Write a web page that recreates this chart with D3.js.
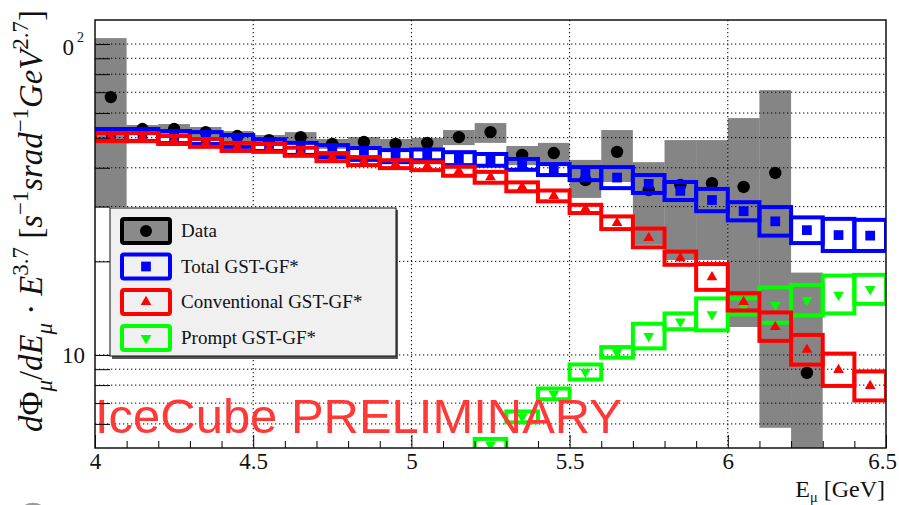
<!DOCTYPE html>
<html>
<head>
<meta charset="utf-8">
<script src="https://cdn.jsdelivr.net/npm/d3@7"></script>
<style>
body { margin: 0; background: #fff; }
svg { display: block; }
</style>
</head>
<body>
<div id="chart"></div>
<script>
// log10(E/GeV) bins, width 0.1
var binLo = [4.0, 4.1, 4.2, 4.3, 4.4, 4.5, 4.6, 4.7, 4.8, 4.9, 5.0, 5.1, 5.2,
             5.3, 5.4, 5.5, 5.6, 5.7, 5.8, 5.9, 6.0, 6.1, 6.2, 6.3, 6.4];
var binWidth = 0.1;

// data points with their (grey) uncertainty band
var dataVal = [67.5, 53.3, 53.3, 52.1, 50.6, 49.1, 50.2, 47.7, 48.4, 47.7, 48.1, 50.2, 52.1,
               44.0, 44.6, 36.5, 45.0, 33.9, 35.2, 35.7, 34.7, 38.5, 8.75, null, null];
var dataLo  = [29.9, 51.7, 51.4, 50.2, 48.8, 47.3, 48.4, 46.0, 46.7, 46.0, 45.6, 47.3, 48.1,
               40.8, 40.8, 32.0, 36.0, 22.6, 20.2, 20.2, 12.3, 5.83, 4.0, null, null];
var dataHi  = [104.5, 54.9, 55.3, 54.1, 52.5, 51.0, 52.1, 49.5, 50.2, 49.5, 49.9, 52.9, 55.7,
               47.0, 48.1, 42.4, 52.9, 41.7, 49.1, 49.1, 57.8, 71.1, 18.4, null, null];

// Total GST-GF*
var totVal = [51.0, 51.0, 50.2, 49.9, 48.8, 47.3, 46.0, 45.3, 44.3, 43.6, 44.0, 42.8, 42.4,
              41.0, 39.5, 38.3, 37.2, 35.5, 33.7, 31.5, 29.0, 26.9, 25.2, 24.3, 24.2];
var totLo  = [48.8, 48.8, 48.0, 47.7, 46.7, 45.3, 44.0, 43.3, 42.4, 41.7, 42.3, 40.8, 40.6,
              39.4, 37.9, 36.5, 34.4, 33.2, 31.5, 29.0, 27.1, 24.2, 22.9, 21.6, 21.6];
var totHi  = [53.3, 53.3, 52.5, 52.1, 51.0, 49.4, 48.1, 47.3, 46.3, 45.6, 45.8, 44.9, 44.3,
              42.7, 41.1, 40.2, 40.2, 37.9, 36.0, 34.2, 31.0, 29.9, 27.7, 27.4, 27.2];

// Conventional GST-GF*
var convVal = [50.2, 50.2, 49.1, 48.1, 46.7, 46.3, 45.0, 43.3, 42.0, 41.1, 40.5, 39.0, 37.3,
               34.7, 32.5, 29.5, 26.6, 23.8, 20.5, 17.8, 14.8, 12.3, 10.4, 8.95, 7.95];
var convLo  = [48.7, 48.7, 47.7, 46.7, 45.3, 45.0, 43.7, 42.0, 40.8, 39.9, 39.3, 37.7, 35.8,
               33.6, 31.2, 28.6, 25.4, 22.2, 19.5, 16.2, 13.9, 11.1, 9.31, 7.95, 7.14];
var convHi  = [51.7, 51.7, 50.6, 49.5, 48.1, 47.7, 46.4, 44.6, 43.3, 42.3, 41.7, 40.3, 38.8,
               35.9, 33.8, 30.4, 27.9, 25.5, 21.5, 19.6, 15.8, 13.7, 11.6, 10.1, 8.85];

// Prompt GST-GF*
var promptVal = [null, null, null, null, null, null, null, null, null, null, null, null, 5.14,
                 6.32, 7.49, 8.82, 10.2, 11.5, 12.8, 13.5, 14.3, 14.5, 15.0, 15.6, 16.3];
var promptLo  = [null, null, null, null, null, null, null, null, null, null, null, null, 4.92,
                 6.07, 7.20, 8.34, 9.8, 10.5, 12.1, 12.0, 13.5, 12.7, 13.4, 13.6, 14.6];
var promptHi  = [null, null, null, null, null, null, null, null, null, null, null, null, 5.37,
                 6.58, 7.80, 9.32, 10.6, 12.6, 13.6, 15.2, 15.2, 16.5, 16.8, 18.0, 18.1];

var xMajor = [4, 4.5, 5, 5.5, 6, 6.5];
var xLabels = ["4", "4.5", "5", "5.5", "6", "6.5"];
var xMinor = [4.1, 4.2, 4.3, 4.4, 4.6, 4.7, 4.8, 4.9, 5.1, 5.2, 5.3, 5.4, 5.6, 5.7, 5.8, 5.9,
              6.1, 6.2, 6.3, 6.4];
var xGrid = [4.5, 5, 5.5, 6];
var yTicks = [6, 7, 8, 9, 10, 20, 30, 40, 50, 60, 70, 80, 90, 100];
var yLabelVals = [10, 100];
var yLabelMain = ["10", "0"];
var yLabelSup = ["", "2"];

var legendNames = ["Data", "Total GST-GF*", "Conventional GST-GF*", "Prompt GST-GF*"];

var W = 899, H = 505;
var x = d3.scaleLinear().domain([4, 6.5]).range([95, 886]);
var y = d3.scaleLog().domain([5.02, 119.5]).range([448, 20]);
var serif = "'Liberation Serif', 'Times New Roman', serif";

var svg = d3.select("#chart").append("svg")
  .attr("width", W).attr("height", H);
svg.append("rect").attr("width", W).attr("height", H).attr("fill", "#fff");

svg.append("clipPath").attr("id", "plotclip")
  .append("rect")
  .attr("x", x(4)).attr("y", y.range()[1])
  .attr("width", x(6.5) - x(4)).attr("height", y.range()[0] - y.range()[1]);

var plot = svg.append("g").attr("clip-path", "url(#plotclip)");

// dotted grid
plot.append("g").selectAll("line").data(yTicks).join("line")
  .attr("x1", x(4)).attr("x2", x(6.5))
  .attr("y1", d => y(d)).attr("y2", d => y(d))
  .attr("stroke", "#000").attr("stroke-width", 1).attr("stroke-dasharray", "1.3,2.7");
plot.append("g").selectAll("line").data(xGrid).join("line")
  .attr("x1", d => x(d)).attr("x2", d => x(d))
  .attr("y1", y.range()[1]).attr("y2", y.range()[0])
  .attr("stroke", "#000").attr("stroke-width", 1).attr("stroke-dasharray", "1.3,2.7");

// preliminary label
var wm = svg.append("text")
  .attr("x", 95).attr("y", 433)
  .attr("font-family", "'Liberation Sans', Arial, sans-serif")
  .attr("font-size", 48).attr("fill", "#ff3838")
  .text("IceCube PRELIMINARY");
var wmLen = wm.node().getComputedTextLength();
wm.attr("font-size", 48 * 527 / wmLen);

var bins = binLo.map(function(lo, i) {
  return {lo: lo, hi: lo + binWidth,
          d: dataVal[i], dLo: dataLo[i], dHi: dataHi[i],
          t: totVal[i], tLo: totLo[i], tHi: totHi[i],
          c: convVal[i], cLo: convLo[i], cHi: convHi[i],
          p: promptVal[i], pLo: promptLo[i], pHi: promptHi[i]};
});

// data uncertainty band
plot.append("g").selectAll("rect").data(bins.filter(b => b.d != null)).join("rect")
  .attr("x", b => x(b.lo)).attr("width", b => x(b.hi) - x(b.lo))
  .attr("y", b => y(b.dHi)).attr("height", b => y(b.dLo) - y(b.dHi))
  .attr("fill", "#000").attr("fill-opacity", 0.48);
plot.append("g").selectAll("circle").data(bins.filter(b => b.d != null)).join("circle")
  .attr("cx", b => x((b.lo + b.hi) / 2)).attr("cy", b => y(b.d))
  .attr("r", 6.2).attr("fill", "#000");

function drawModel(key, color, sym, rot) {
  var sel = bins.filter(b => b[key] != null);
  var g = plot.append("g");
  g.selectAll("rect").data(sel).join("rect")
    .attr("x", b => x(b.lo)).attr("width", b => x(b.hi) - x(b.lo))
    .attr("y", b => y(b[key + "Hi"])).attr("height", b => y(b[key + "Lo"]) - y(b[key + "Hi"]))
    .attr("fill", "none").attr("stroke", color).attr("stroke-width", 4);
  g.selectAll("path").data(sel).join("path")
    .attr("d", d3.symbol().type(sym.type).size(sym.size))
    .attr("transform", b => "translate(" + x((b.lo + b.hi) / 2) + "," + y(b[key]) + ") rotate(" + rot + ")")
    .attr("fill", color);
}
var sqr = {type: d3.symbolSquare, size: 95};
var tri = {type: d3.symbolTriangle, size: 50};
drawModel("t", "#0000ff", sqr, 0);
drawModel("p", "#00ff00", tri, 180);
drawModel("c", "#ff0000", tri, 0);

// axes, ticks pointing inward
var ax = svg.append("g").attr("transform", "translate(0," + y.range()[0] + ")")
  .call(d3.axisBottom(x).tickValues(xMajor).tickSize(-13).tickPadding(5)
    .tickFormat((d, i) => xLabels[i]));
svg.append("g").attr("transform", "translate(0," + y.range()[0] + ")")
  .call(d3.axisBottom(x).tickValues(xMinor).tickSize(-7).tickFormat(""));
var ay = svg.append("g").attr("transform", "translate(" + x(4) + ",0)")
  .call(d3.axisLeft(y).tickValues(yTicks).tickSize(-15).tickPadding(10)
    .tickFormat(function(d) {
      var k = yLabelVals.indexOf(d);
      return k < 0 ? "" : yLabelMain[k];
    }));
svg.selectAll(".domain").remove();
svg.selectAll(".tick line").attr("stroke", "#000");
svg.selectAll(".tick text").attr("font-family", serif).attr("font-size", 23).attr("fill", "#111");
// last label sits against the right edge of the picture
ax.selectAll(".tick text").filter(d => d === 6.5).attr("dx", -4);
ay.selectAll(".tick text").each(function(d) {
  var k = yLabelVals.indexOf(d);
  if (k >= 0 && yLabelSup[k]) {
    var t = d3.select(this);
    t.attr("x", -21).attr("y", 3);
    d3.select(this.parentNode).append("text")
      .attr("x", -11).attr("y", -3)
      .attr("font-family", serif).attr("font-size", 14).attr("fill", "#111")
      .attr("text-anchor", "end")
      .text(yLabelSup[k]);
  }
});

// frame
svg.append("rect")
  .attr("x", x(4)).attr("y", y.range()[1])
  .attr("width", x(6.5) - x(4)).attr("height", y.range()[0] - y.range()[1])
  .attr("fill", "none").attr("stroke", "#111").attr("stroke-width", 1.5);

// legend
var lg = svg.append("g");
lg.append("rect").attr("x", 112).attr("y", 210).attr("width", 286).attr("height", 149)
  .attr("fill", "#555");
lg.append("rect").attr("x", 110).attr("y", 208).attr("width", 286).attr("height", 148)
  .attr("fill", "#f0f0f0").attr("stroke", "#111").attr("stroke-width", 1);
var legCol = ["#000", "#0000ff", "#ff0000", "#00ff00"];
var legY = [231, 266.5, 302, 338];
legendNames.forEach(function(name, i) {
  var cy = legY[i];
  lg.append("rect").attr("x", 122).attr("y", cy - 12).attr("width", 48).attr("height", 24)
    .attr("rx", 2)
    .attr("fill", i === 0 ? "#8a8a8a" : "none")
    .attr("stroke", legCol[i]).attr("stroke-width", 4);
  if (i === 0) {
    lg.append("circle").attr("cx", 146).attr("cy", cy).attr("r", 6).attr("fill", "#000");
  } else {
    var s = i === 1 ? sqr : tri;
    lg.append("path").attr("d", d3.symbol().type(s.type).size(s.size))
      .attr("transform", "translate(146," + cy + ") rotate(" + (i === 3 ? 180 : 0) + ")")
      .attr("fill", legCol[i]);
  }
  lg.append("text").attr("x", 181).attr("y", cy + 6)
    .attr("font-family", serif).attr("font-size", 19).attr("fill", "#111")
    .text(name);
});

// x title
var xt = svg.append("text").attr("x", 885).attr("y", 497).attr("text-anchor", "end")
  .attr("font-family", serif).attr("font-size", 24).attr("fill", "#111");
xt.append("tspan").text("E");
xt.append("tspan").attr("font-size", "0.6em").attr("dy", "0.35em").text("\u03bc");
xt.append("tspan").attr("dy", "-0.21em").text(" [GeV]");

// y title (rotated)
var yParts = [
  ["d", "i", 0], ["\u03a6", "n", 0], ["\u03bc", "i", -1], ["/", "n", 0], ["d", "i", 0],
  ["E", "i", 0], ["\u03bc", "i", -1], [" \u00b7 ", "n", 0], ["E", "i", 0], ["3.7", "n", 1],
  [" [", "n", 0], ["s", "i", 0], ["\u22121", "n", 1], ["srad", "i", 0], ["\u22121", "n", 1],
  ["GeV", "i", 0], ["2.7", "n", 1], ["]", "n", 0]
];
var yt = svg.append("text")
  .attr("transform", "translate(42,221) rotate(-90)")
  .attr("text-anchor", "middle")
  .attr("font-family", serif).attr("font-size", 30).attr("fill", "#111");
var shift = 0;
yParts.forEach(function(p) {
  var want = p[2] === 1 ? -0.42 : (p[2] === -1 ? 0.3 : 0);
  var ts = yt.append("tspan").text(p[0])
    .attr("font-style", p[1] === "i" ? "italic" : "normal");
  if (p[2] !== 0) ts.attr("font-size", "0.7em");
  if (want !== shift) ts.attr("dy", ((want - shift) * 30) + "px");
  shift = want;
});
var ytLen = yt.node().getComputedTextLength();
var fs = 30 * 422 / ytLen;
yt.attr("font-size", fs);
shift = 0;
yt.selectAll("tspan").each(function(d, i) {
  var p = yParts[i];
  var want = p[2] === 1 ? -0.42 : (p[2] === -1 ? 0.3 : 0);
  if (want !== shift) d3.select(this).attr("dy", ((want - shift) * fs) + "px");
  shift = want;
});

// cropped logo edge at the bottom left
svg.append("circle").attr("cx", 33).attr("cy", 519).attr("r", 15)
  .attr("fill", "none").attr("stroke", "#9a9a9a").attr("stroke-width", 2.5);
</script>
</body>
</html>
